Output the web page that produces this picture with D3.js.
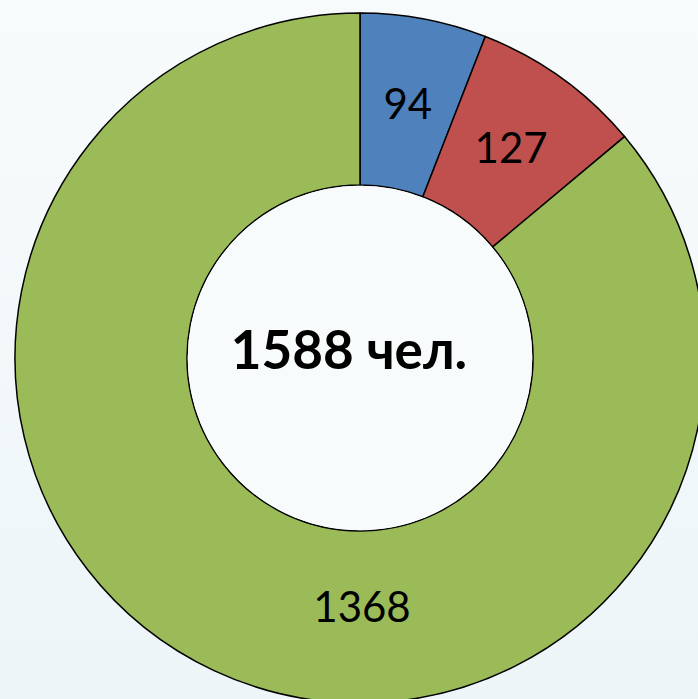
<!DOCTYPE html>
<html><head><meta charset="utf-8">
<script src="https://cdn.jsdelivr.net/npm/d3@7"></script>
<style>html,body{margin:0;padding:0;overflow:hidden;}</style>
</head><body>
<svg id="chart" width="698" height="699"></svg>
<script>
const categories = ["A", "B", "C"];
const values = [94, 127, 1368];
const colors = ["#4f81bd", "#c0504d", "#9bbb59"];
const centerLabel = "1588 чел.";

const svg = d3.select("#chart");
const W = 698, H = 699;
const defs = svg.append("defs");
const grad = defs.append("linearGradient").attr("id","bg").attr("x1",0).attr("y1",0).attr("x2",0).attr("y2",1);
grad.append("stop").attr("offset","0%").attr("stop-color","#f8fbfc");
grad.append("stop").attr("offset","100%").attr("stop-color","#edf5f8");
svg.append("rect").attr("width",W).attr("height",H).attr("fill","url(#bg)");

const cx = 360, cy = 358, rOuter = 345, rInner = 173;
const g = svg.append("g").attr("transform",`translate(${cx},${cy})`);

const pie = d3.pie().sort(null).value(d => d)(values);
const arc = d3.arc().innerRadius(rInner).outerRadius(rOuter);

g.selectAll("path.slice").data(pie).join("path")
  .attr("class","slice")
  .attr("d", arc)
  .attr("fill", (d,i) => colors[i])
  .attr("stroke", "#000")
  .attr("stroke-width", 1.5);

g.append("circle").attr("r", rInner - 0.75).attr("fill","#f8fbfc");

const labelArc = d3.arc().innerRadius(rInner).outerRadius(rOuter);
g.selectAll("text.lbl").data(pie).join("text")
  .attr("class","lbl")
  .attr("transform", d => {
    let c;
    if (d.endAngle - d.startAngle > Math.PI) {
      c = labelArc.centroid({startAngle: Math.PI, endAngle: Math.PI});
      c = [c[0] + 2, c[1] - 10];
    } else c = labelArc.centroid(d);
    return `translate(${c[0]},${c[1]})`;
  })
  .attr("text-anchor","middle")
  .attr("dy","0.36em")
  .style("font-family","Lato, 'Open Sans', sans-serif")
  .style("font-size","42px")
  .attr("fill","#000")
  .text(d => d.data);

g.append("text")
  .attr("x", -11).attr("y", -8)
  .attr("text-anchor","middle")
  .attr("dy","0.36em")
  .style("font-family","Lato, 'Open Sans', sans-serif")
  .style("font-weight","bold")
  .style("font-size","53px")
  .attr("fill","#000")
  .text(centerLabel);
</script>
</body></html>
